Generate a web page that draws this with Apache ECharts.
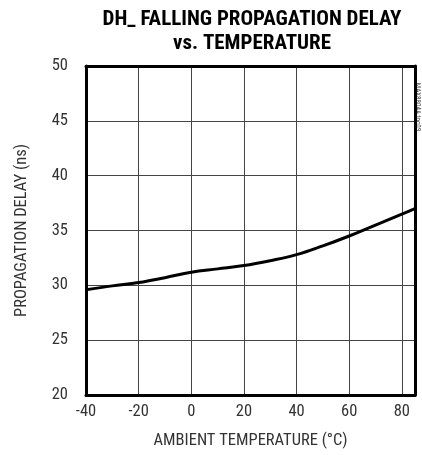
<!DOCTYPE html>
<html><head><meta charset="utf-8">
<script src="https://cdn.jsdelivr.net/npm/echarts@6/dist/echarts.min.js"></script>
<style>html,body{margin:0;padding:0;background:#fff}#c{width:422px;height:455px}</style>
</head><body><div id="c"></div>
<script>
const temperatures = [-40, -30, -20, -10, 0, 10, 20, 30, 40, 50, 60, 70, 80, 85];
const delayNs = [29.6, 29.95, 30.25, 30.7, 31.2, 31.5, 31.8, 32.25, 32.8, 33.6, 34.5, 35.5, 36.5, 37.0];
const titleText = "DH_ FALLING PROPAGATION DELAY\nvs. TEMPERATURE";
const xTitle = "AMBIENT TEMPERATURE (°C)";
const yTitle = "PROPAGATION DELAY (ns)";
const tagText = "MAX8804A toc09";

const FONT = "'Liberation Sans Narrow','Arial Narrow','Roboto Condensed',sans-serif";
const chart = echarts.init(document.getElementById('c'), null, {renderer: 'canvas'});
const axisLabelStyle = {color: '#333', fontSize: 16.5, fontFamily: FONT};
chart.setOption({
  animation: false,
  title: {
    text: titleText, left: 247, top: 3, textAlign: 'center',
    textStyle: {fontFamily: FONT, fontWeight: 'bold', fontSize: 21, color: '#000', lineHeight: 24}
  },
  grid: {left: 86, right: 7, top: 66, bottom: 60},
  xAxis: [{
    type: 'value', min: -40, max: 85, interval: 20,
    name: xTitle, nameLocation: 'middle', nameGap: 37,
    nameTextStyle: {color: '#333', fontSize: 16.5, fontFamily: FONT},
    axisLine: {show: true, lineStyle: {color: '#000', width: 3}},
    axisTick: {show: false},
    axisLabel: Object.assign({margin: 8}, axisLabelStyle),
    splitLine: {show: true, lineStyle: {color: '#444', width: 1}}
  }, {
    type: 'value', position: 'top', min: -40, max: 85,
    axisLine: {show: true, onZero: false, lineStyle: {color: '#000', width: 3}},
    axisTick: {show: false}, axisLabel: {show: false}, splitLine: {show: false}
  }],
  yAxis: [{
    type: 'value', min: 20, max: 50, interval: 5,
    name: yTitle, nameLocation: 'middle', nameGap: 56, nameRotate: 90,
    nameTextStyle: {color: '#333', fontSize: 16.5, fontFamily: FONT},
    axisLine: {show: true, onZero: false, lineStyle: {color: '#000', width: 3}},
    axisTick: {show: false},
    axisLabel: Object.assign({margin: 18}, axisLabelStyle),
    splitLine: {show: true, lineStyle: {color: '#444', width: 1}}
  }, {
    type: 'value', position: 'right', min: 20, max: 50,
    axisLine: {show: true, onZero: false, lineStyle: {color: '#000', width: 3}},
    axisTick: {show: false}, axisLabel: {show: false}, splitLine: {show: false}
  }],
  graphic: [{
    type: 'text', x: 418, y: 107, rotation: -Math.PI / 2,
    style: {text: tagText, fill: '#444', font: '7px ' + FONT, align: 'center', verticalAlign: 'middle'}
  }],
  series: [{
    type: 'line', xAxisIndex: 0, yAxisIndex: 0, smooth: 0.4, symbol: 'none',
    lineStyle: {color: '#000', width: 3},
    data: temperatures.map((t, i) => [t, delayNs[i]])
  }]
});
</script></body></html>
